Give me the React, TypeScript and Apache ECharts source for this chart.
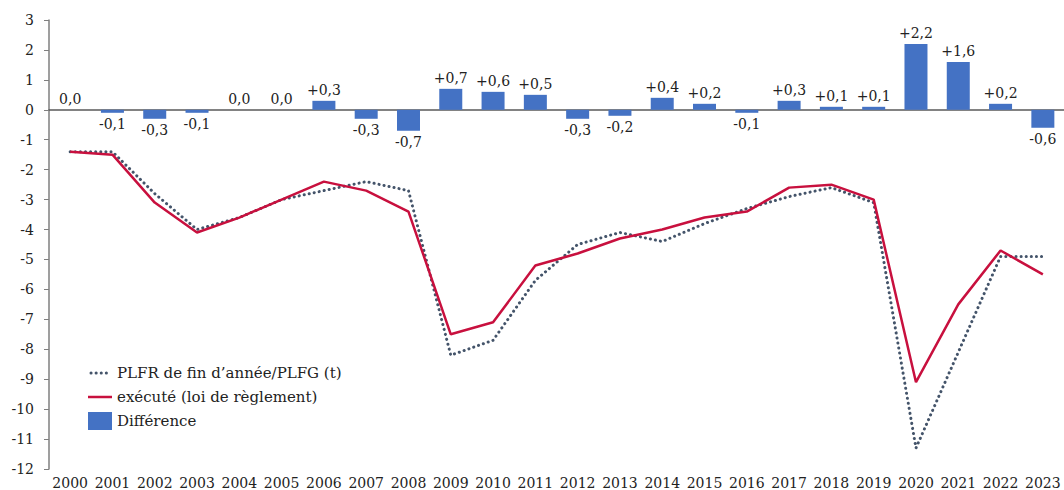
import React, { useEffect, useRef } from "react";
import * as echarts from "echarts";

const years = ["2000","2001","2002","2003","2004","2005","2006","2007","2008","2009","2010","2011","2012","2013","2014","2015","2016","2017","2018","2019","2020","2021","2022","2023"];
const plfr = [-1.4,-1.4,-2.8,-4.0,-3.6,-3.0,-2.7,-2.4,-2.7,-8.2,-7.7,-5.7,-4.5,-4.1,-4.4,-3.8,-3.3,-2.9,-2.6,-3.1,-11.3,-8.1,-4.9,-4.9];
const execute = [-1.4,-1.5,-3.1,-4.1,-3.6,-3.0,-2.4,-2.7,-3.4,-7.5,-7.1,-5.2,-4.8,-4.3,-4.0,-3.6,-3.4,-2.6,-2.5,-3.0,-9.1,-6.5,-4.7,-5.5];
const difference = [0.0,-0.1,-0.3,-0.1,0.0,0.0,0.3,-0.3,-0.7,0.7,0.6,0.5,-0.3,-0.2,0.4,0.2,-0.1,0.3,0.1,0.1,2.2,1.6,0.2,-0.6];
const seriesNames = ["PLFR de fin d\u2019année/PLFG (t)", "exécuté (loi de règlement)", "Différence"];

const FONT = "DejaVu Serif";
const FS = 14;
const DOT_COLOR = "#44546A";
const RED = "#C8103E";
const BLUE = "#4472C4";

function fmt(v: number): string {
  const s = Math.abs(v).toFixed(1).replace(".", ",");
  if (v > 0) return "+" + s;
  if (v < 0) return "-" + s;
  return s;
}

export default function App() {
  const ref = useRef<HTMLDivElement>(null);
  useEffect(() => {
    if (!ref.current) return;
    const chart = echarts.init(ref.current, undefined, { renderer: "svg" });
    const lx = 88;
    const rows = [373, 397, 421];
    chart.setOption({
      animation: false,
      textStyle: { fontFamily: FONT },
      grid: { left: 49, top: 20, width: 1022, height: 450, containLabel: false },
      graphic: [
        {
          type: "line",
          shape: { x1: lx + 3, y1: rows[0], x2: lx + 22, y2: rows[0] },
          style: { stroke: DOT_COLOR, lineWidth: 3, lineDash: [0.1, 5], lineCap: "round" },
        },
        {
          type: "line",
          shape: { x1: lx, y1: rows[1], x2: lx + 24, y2: rows[1] },
          style: { stroke: RED, lineWidth: 2.5 },
        },
        {
          type: "rect",
          shape: { x: lx, y: rows[2] - 9, width: 24, height: 18 },
          style: { fill: BLUE },
        },
        ...seriesNames.map((n, i) => ({
          type: "text",
          x: lx + 29,
          y: rows[i],
          style: { text: n, fontFamily: FONT, fontSize: FS + 1, fill: "#222", verticalAlign: "middle", align: "left" },
        })),
      ],
      xAxis: [
        {
          type: "category",
          data: years,
          position: "bottom",
          axisLine: { show: false, onZero: false },
          axisTick: { show: false },
          axisLabel: { fontFamily: FONT, fontSize: FS, color: "#222", margin: 7, interval: 0 },
        },
        {
          type: "category",
          data: years,
          position: "bottom",
          axisLine: { show: true, onZero: true, lineStyle: { color: "#595959", width: 1.5 } },
          axisTick: { show: false },
          axisLabel: { show: false },
        },
      ],
      yAxis: {
        type: "value",
        min: -12,
        max: 3,
        interval: 1,
        splitLine: { show: false },
        axisLine: { show: true, lineStyle: { color: "#7f7f7f", width: 1.5 } },
        axisTick: { show: true, length: 5, lineStyle: { color: "#7f7f7f" } },
        axisLabel: { fontFamily: FONT, fontSize: FS, color: "#222", margin: 15 },
      },
      series: [
        {
          name: seriesNames[0],
          type: "line",
          data: plfr,
          symbol: "none",
          z: 3,
          lineStyle: { color: DOT_COLOR, width: 3, type: [0.1, 5], cap: "round" },
          itemStyle: { color: DOT_COLOR },
        },
        {
          name: seriesNames[1],
          type: "line",
          data: execute,
          symbol: "none",
          z: 4,
          lineStyle: { color: RED, width: 2.5 },
          itemStyle: { color: RED },
        },
        {
          name: seriesNames[2],
          type: "bar",
          barWidth: 23,
          z: 2,
          itemStyle: { color: BLUE },
          data: difference.map((v) => ({
            value: v,
            label: {
              show: true,
              position: v < 0 ? "bottom" : "top",
              distance: 4,
              formatter: () => fmt(v),
              fontFamily: FONT,
              fontSize: FS,
              color: "#222",
            },
          })),
        },
      ],
    });
    return () => chart.dispose();
  }, []);
  return (
    <div
      ref={ref}
      style={{ position: "fixed", left: 0, top: 0, width: 1064, height: 490, background: "#fff" }}
    />
  );
}
